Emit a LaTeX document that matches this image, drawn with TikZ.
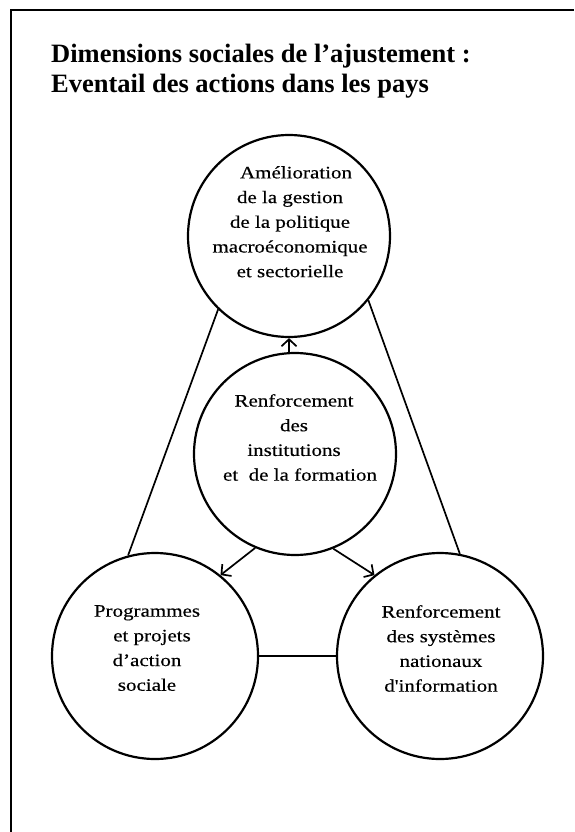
\documentclass[tikz,border=0pt]{standalone}
\usepackage{fontspec}
\setmainfont{Liberation Serif}
\newfontfamily\circfont{Liberation Serif}[FakeStretch=1.2,FakeBold=0.4]
\usetikzlibrary{arrows.meta}
\begin{document}
\begin{tikzpicture}[x=1pt,y=-1pt,
  bubble/.style={circle,draw,line width=2.2pt,inner sep=0pt},
  bubtext/.style={inner sep=0pt,align=center,anchor=north,
    font={\circfont\fontsize{17.5}{24.7}\selectfont}},
  link/.style={line width=1.7pt},
  arr/.style={line width=1.7pt,-{Straight Barb[length=7pt,width=15pt,line width=1.7pt]}},
  titletext/.style={inner sep=0pt,align=left,anchor=north west,
    font={\bfseries\fontsize{26.5}{29.5}\selectfont}}]
\useasboundingbox (0,0) rectangle (574,832);
\fill[white] (0,0) rectangle (574,832);
% frame
\draw[line width=1.5pt] (11,832) -- (11,10) -- (574,10);
% title
\node[titletext] (title) at (51,44) {Dimensions sociales de l’ajustement :\\Eventail des actions dans les pays};
% circles
\node[bubble,minimum size=202pt] (T) at (289,236) {};
\node[bubble,minimum size=202pt] (M) at (295,454) {};
\node[bubble,minimum size=206pt] (L) at (155,656) {};
\node[bubble,minimum size=206pt] (R) at (440,656) {};
% texts
\node[bubtext] (Tt) at (290,166) {\hspace*{12pt}Amélioration\\de la gestion\\de la politique\\macroéconomique\\et sectorielle};
\node[bubtext] (Mt) at (294,394) {Renforcement\\des\hspace*{14pt}\\institutions\\\hspace*{12pt}et\ \ de la formation};
\node[bubtext] (Lt) at (147,605) {Programmes\\\hspace*{10pt}et projets\\d’action\\sociale};
\node[bubtext] (Rt) at (441,605) {Renforcement\\des systèmes\\nationaux\\d'information};
% connectors
\draw[link] (T.226) -- (L.105);
\draw[link] (T.321) -- (R.79);
\draw[link] (L.east) -- (R.west);
\draw[arr] (T.south |- M.north) -- (T.south);
\draw[arr] (M.247) -- (L.51);
\draw[arr] (M.292) -- (R.129);
\end{tikzpicture}
\end{document}
